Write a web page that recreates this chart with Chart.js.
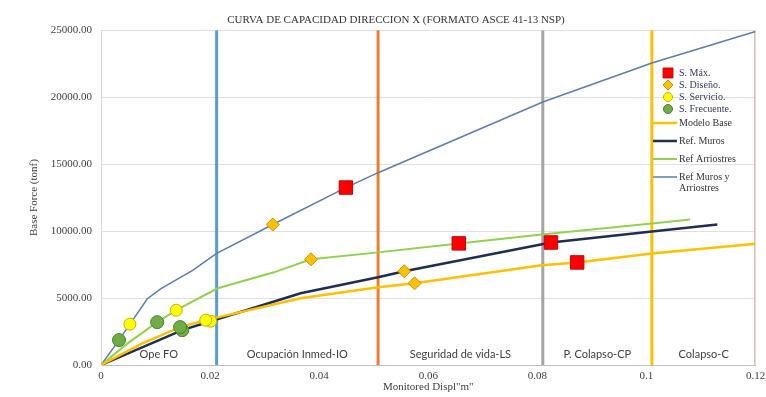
<!DOCTYPE html>
<html>
<head>
<meta charset="utf-8">
<script src="https://cdn.jsdelivr.net/npm/chart.js@4.4.1/dist/chart.umd.min.js"></script>
<style>
  html, body { margin: 0; padding: 0; background: #fff; }
  #wrap { width: 766px; height: 397px; position: relative; }
</style>
</head>
<body>
<div id="wrap"><canvas id="capacidadChart"></canvas></div>
<script>
// límites de los niveles de desempeño (desplazamiento en m)
const zoneLimits = [0, 0.0212, 0.0508, 0.081, 0.101, 0.12];
const zoneNames = ['Ope FO', 'Ocupación Inmed-IO', 'Seguridad de vida-LS', 'P. Colapso-CP', 'Colapso-C'];

// ejes
const xMax = 0.12, xStep = 0.02;
const yMax = 25000, yStep = 5000;

// curvas pushover [desplazamiento m, cortante basal tonf]
const modeloBase = [[0, 0], [0.0075, 1600], [0.0145, 2830], [0.0192, 3350], [0.0366, 4990], [0.0508, 5800],
  [0.0575, 6100], [0.0808, 7440], [0.0873, 7660], [0.101, 8330], [0.12, 9060]];
const refMuros = [[0, 0], [0.0149, 2600], [0.0201, 3270], [0.0366, 5360], [0.0508, 6550], [0.0556, 7000],
  [0.0825, 9150], [0.101, 9970], [0.113, 10490]];
const refArriostres = [[0, 0], [0.005, 1650], [0.0103, 3200], [0.0138, 4090], [0.0214, 5730], [0.0317, 6920],
  [0.0385, 7890], [0.0508, 8410], [0.0656, 9080], [0.0808, 9750], [0.101, 10570], [0.108, 10860]];
const refMurosArriostres = [[0, 0], [0.0033, 1860], [0.0053, 3050], [0.0085, 4950], [0.011, 5700], [0.0168, 7070],
  [0.0212, 8330], [0.0315, 10490], [0.0449, 13250], [0.0508, 14360], [0.081, 19640], [0.101, 22550], [0.12, 24900]];

// puntos de desempeño por nivel de sismo
const sMax = [[0.0449, 13250], [0.0656, 9080], [0.0825, 9150], [0.0873, 7660]];
const sDiseno = [[0.0315, 10490], [0.0385, 7890], [0.0556, 7000], [0.0575, 6100]];
const sServicio = [[0.0053, 3050], [0.0138, 4090], [0.0201, 3270], [0.0192, 3350]];
const sFrecuente = [[0.0033, 1860], [0.0103, 3200], [0.0149, 2600], [0.0145, 2830]];

const toXY = pts => pts.map(([x, y]) => ({ x, y }));

const markerSet = (label, pts, style, radius, fill, stroke) => ({
  label, data: toXY(pts), showLine: false, order: 0,
  pointStyle: style, pointRadius: radius, pointHoverRadius: radius,
  backgroundColor: fill, borderColor: stroke, borderWidth: 1
});
const curveSet = (label, pts, color, width) => ({
  label, data: toXY(pts), showLine: true, order: 1,
  borderColor: color, backgroundColor: color, borderWidth: width, pointRadius: 0, tension: 0
});

const zoneColors = ['#5b9bd5', '#ed7d31', '#a5a5a5', '#ffc000', '#e0bcb3'];
const zoneSets = zoneLimits.slice(1).map((x, i) => ({
  label: '', zone: true, data: [{ x, y: 0 }, { x, y: yMax }], showLine: true, order: 2,
  borderColor: zoneColors[i], borderWidth: 3, pointRadius: 0
}));

// leyenda dentro del área del gráfico, a la derecha
const sideLegend = {
  id: 'sideLegend',
  afterDraw(chart) {
    const ctx = chart.ctx;
    ctx.save();
    ctx.font = "10px 'Liberation Serif', 'Times New Roman', serif";
    ctx.textBaseline = 'middle';
    let mi = 0, li = 0;
    chart.data.datasets.forEach(ds => {
      if (ds.zone) return;
      const textX = 679;
      let y;
      if (!ds.showLine) {
        y = 73 + mi * 12; mi++;
        const r = { rect: 7, rectRot: 5, circle: 4.5 }[ds.pointStyle];
        ctx.fillStyle = ds.backgroundColor;
        ctx.strokeStyle = ds.borderColor;
        ctx.lineWidth = 1;
        Chart.helpers.drawPoint(ctx, { pointStyle: ds.pointStyle, radius: r, borderWidth: 1, rotation: 0 }, 668, y);
        ctx.fillStyle = '#2f3a5a';
      } else {
        y = 123 + li * 18; li++;
        ctx.strokeStyle = ds.borderColor;
        ctx.lineWidth = ds.borderWidth;
        ctx.beginPath(); ctx.moveTo(653, y); ctx.lineTo(677, y); ctx.stroke();
        ctx.fillStyle = '#333';
      }
      // salto de línea si el texto no cabe
      const words = ds.label.split(' ');
      let line = '', lines = [];
      words.forEach(w => {
        const t = line ? line + ' ' + w : w;
        if (ctx.measureText(t).width > 74 && line) { lines.push(line); line = w; } else line = t;
      });
      lines.push(line);
      lines.forEach((l, k) => ctx.fillText(l, textX, y + k * 11));
    });
    ctx.restore();
  }
};

// nombres de los niveles de desempeño sobre el eje X
const zoneLabels = {
  id: 'zoneLabels',
  afterDatasetsDraw(chart) {
    const { ctx, chartArea, scales: { x } } = chart;
    ctx.save();
    ctx.font = "11px Lato, 'Liberation Sans', sans-serif";
    ctx.fillStyle = '#404040';
    ctx.textAlign = 'center';
    ctx.textBaseline = 'middle';
    zoneNames.forEach((name, i) => {
      const cx = x.getPixelForValue((zoneLimits[i] + zoneLimits[i + 1]) / 2);
      ctx.fillText(name, cx, chartArea.bottom - 11);
    });
    ctx.restore();
  }
};

Chart.defaults.font.family = "'Liberation Serif', 'Times New Roman', serif";
Chart.defaults.font.size = 11;
Chart.defaults.color = '#404040';

new Chart(document.getElementById('capacidadChart'), {
  type: 'scatter',
  data: {
    datasets: [
      markerSet('S. Máx.', sMax, 'rect', 9.5, '#ff0000', '#c00000'),
      markerSet('S. Diseño.', sDiseno, 'rectRot', 6.5, '#ffc000', '#d08f00'),
      markerSet('S. Servicio.', sServicio, 'circle', 6, '#ffff00', '#c4b000'),
      markerSet('S. Frecuente.', sFrecuente, 'circle', 6.5, '#70ad47', '#4e7f30'),
      curveSet('Modelo Base', modeloBase, '#ffc000', 2.5),
      curveSet('Ref. Muros', refMuros, '#1f2d50', 2.5),
      curveSet('Ref Arriostres', refArriostres, '#92d050', 2),
      curveSet('Ref Muros y Arriostres', refMurosArriostres, '#5b7fa8', 1.5),
      ...zoneSets
    ]
  },
  options: {
    responsive: true,
    maintainAspectRatio: false,
    animation: false,
    layout: { padding: { left: 26 } },
    scales: {
      x: {
        type: 'linear', min: 0, max: xMax,
        ticks: { stepSize: xStep, padding: 5, callback: v => String(+v.toFixed(2)) },
        grid: { display: false, drawTicks: false },
        border: { display: true, color: '#bfbfbf' },
        title: { display: true, text: 'Monitored Displ"m"', padding: { top: 0, bottom: 3 } },
        afterFit: s => { s.height = 32; s.paddingRight = 8; }
      },
      y: {
        type: 'linear', min: 0, max: yMax,
        ticks: { stepSize: yStep, padding: 9, callback: v => v.toFixed(2) },
        grid: { color: '#e0e0e0', drawTicks: false },
        border: { display: true, color: '#d9d9d9' },
        title: { display: true, text: 'Base Force (tonf)', padding: { top: 2, bottom: 0 } },
        afterFit: s => { s.width = 75; }
      }
    },
    plugins: {
      legend: { display: false },
      tooltip: { enabled: false },
      title: {
        display: true,
        text: 'CURVA DE CAPACIDAD DIRECCION X (FORMATO ASCE 41-13 NSP)',
        font: { size: 11, weight: 'normal' },
        color: '#333',
        padding: { top: 14, bottom: 3 }
      }
    }
  },
  plugins: [zoneLabels, sideLegend]
});
</script>
</body>
</html>
